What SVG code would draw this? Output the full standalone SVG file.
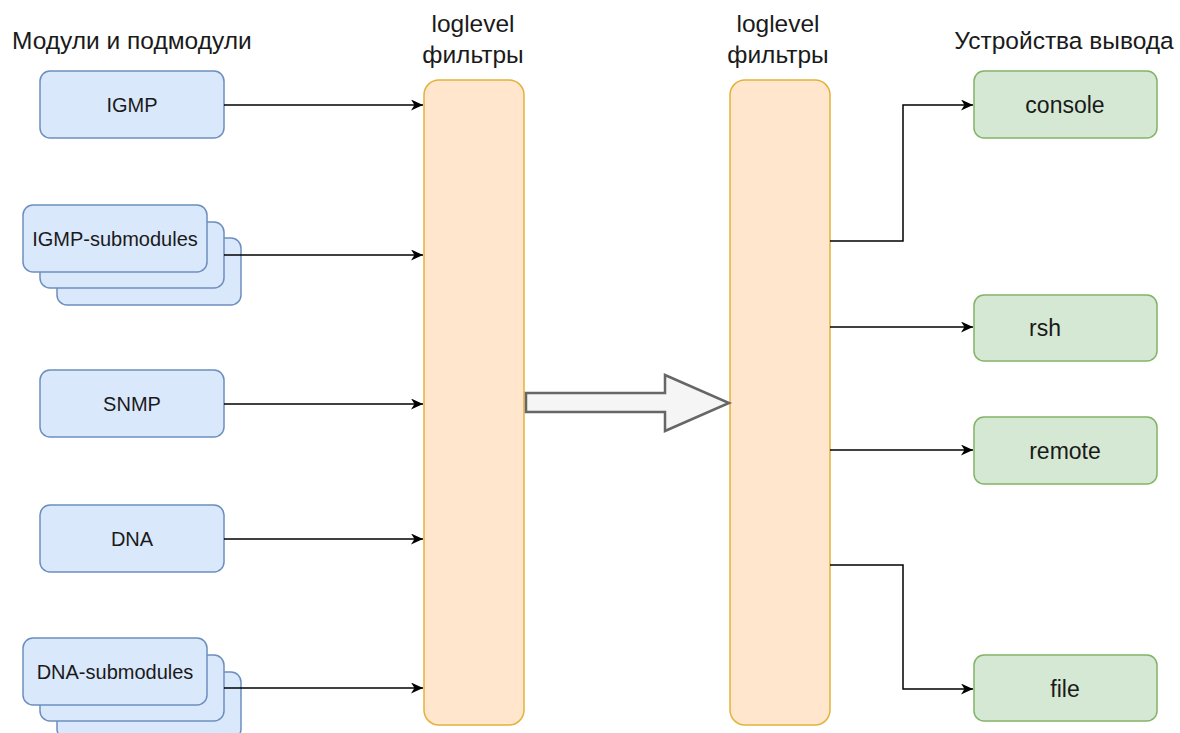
<svg xmlns="http://www.w3.org/2000/svg" width="1180" height="733" viewBox="0 0 1180 733">
<style>
  text { font-family: "Liberation Sans", Arial, sans-serif; fill: #1a1a1a; }
  .hdr { font-size: 24.5px; }
  .mod rect { fill: #dae8fc; stroke: #6c8ebf; stroke-width: 1.5; }
  .out rect { fill: #d5e8d4; stroke: #82b366; stroke-width: 1.5; }
  .flt rect { fill: #ffe6cc; stroke: #e3b23c; stroke-width: 1.5; }
  .lbl { font-size: 20px; text-anchor: middle; }
  .olbl { font-size: 23px; text-anchor: middle; }
  .conn path { fill: none; stroke: #000; stroke-width: 1.5; }
</style>
<defs>
  <marker id="arr" markerWidth="13" markerHeight="11" refX="12" refY="5.5" orient="auto" markerUnits="userSpaceOnUse">
    <path d="M0,0 L12,5.5 L0,11 L3.5,5.5 Z" fill="#000"/>
  </marker>
</defs>
<rect width="1180" height="733" fill="#fff"/>

<g id="headers">
  <text class="hdr" x="12" y="49">Модули и подмодули</text>
  <text class="hdr" x="473" y="32" text-anchor="middle">loglevel</text>
  <text class="hdr" x="473" y="63" text-anchor="middle">фильтры</text>
  <text class="hdr" x="778" y="32" text-anchor="middle">loglevel</text>
  <text class="hdr" x="778" y="63" text-anchor="middle">фильтры</text>
  <text class="hdr" x="1064" y="49" text-anchor="middle">Устройства вывода</text>
</g>

<g id="igmp" class="mod">
  <rect x="40" y="71" width="184" height="67" rx="10"/>
  <text class="lbl" x="132" y="112">IGMP</text>
</g>
<g id="igmp-sub" class="mod">
  <rect x="57" y="238" width="184" height="67" rx="10"/>
  <rect x="40" y="222" width="184" height="66" rx="10"/>
  <rect x="23" y="205" width="184" height="67" rx="10"/>
  <text class="lbl" x="115" y="246">IGMP-submodules</text>
</g>
<g id="snmp" class="mod">
  <rect x="40" y="370" width="184" height="67" rx="10"/>
  <text class="lbl" x="132" y="411">SNMP</text>
</g>
<g id="dna" class="mod">
  <rect x="40" y="505" width="184" height="67" rx="10"/>
  <text class="lbl" x="132" y="546">DNA</text>
</g>
<g id="dna-sub" class="mod">
  <rect x="57" y="672" width="184" height="67" rx="10"/>
  <rect x="40" y="655" width="184" height="66" rx="10"/>
  <rect x="23" y="638" width="184" height="67" rx="10"/>
  <text class="lbl" x="115" y="679">DNA-submodules</text>
</g>

<g id="filter1" class="flt">
  <rect x="424" y="80" width="100" height="645" rx="15"/>
</g>
<g id="filter2" class="flt">
  <rect x="730" y="80" width="100" height="645" rx="15"/>
</g>

<g id="console" class="out">
  <rect x="974" y="71" width="183" height="67" rx="10"/>
  <text class="olbl" x="1065" y="113">console</text>
</g>
<g id="rsh" class="out">
  <rect x="974" y="295" width="183" height="66" rx="10"/>
  <text class="olbl" x="1045" y="336">rsh</text>
</g>
<g id="remote" class="out">
  <rect x="974" y="417" width="183" height="67" rx="10"/>
  <text class="olbl" x="1065" y="459">remote</text>
</g>
<g id="file" class="out">
  <rect x="974" y="655" width="183" height="66" rx="10"/>
  <text class="olbl" x="1065" y="697">file</text>
</g>

<g id="connectors" class="conn">
  <path d="M224,105 L423,105" marker-end="url(#arr)"/>
  <path d="M224,255 L423,255" marker-end="url(#arr)"/>
  <path d="M224,404 L423,404" marker-end="url(#arr)"/>
  <path d="M224,539 L423,539" marker-end="url(#arr)"/>
  <path d="M224,688 L423,688" marker-end="url(#arr)"/>
  <path d="M830,241 L903,241 L903,105 L973,105" marker-end="url(#arr)"/>
  <path d="M830,327 L973,327" marker-end="url(#arr)"/>
  <path d="M830,450 L973,450" marker-end="url(#arr)"/>
  <path d="M830,565 L903,565 L903,689 L973,689" marker-end="url(#arr)"/>
  <path id="big-arrow" d="M526,393 L665,393 L665,375 L729,403 L665,431 L665,412 L526,412 Z" style="fill:#f5f5f5;stroke:#666;stroke-width:2.5"/>
</g>
</svg>
